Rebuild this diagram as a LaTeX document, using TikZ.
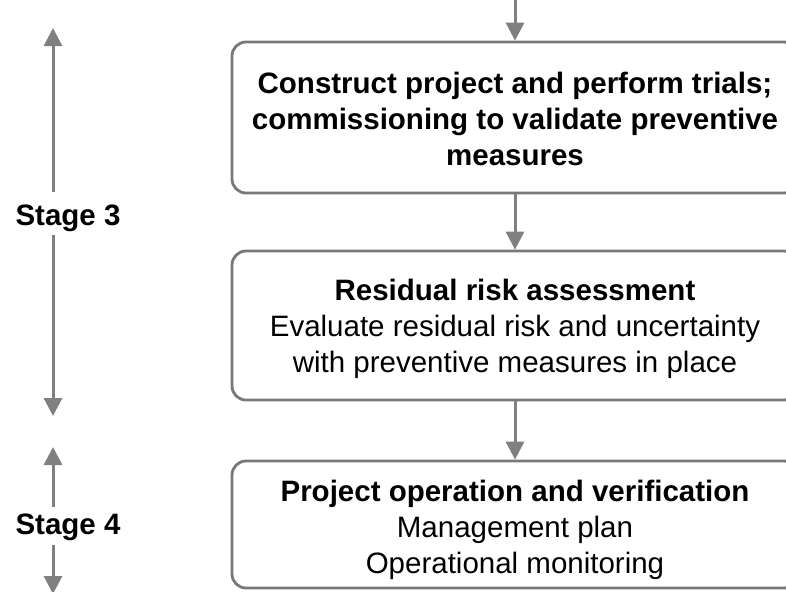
\documentclass[tikz,border=0pt]{standalone}
\usepackage{fontspec}
\setmainfont{Liberation Sans}
\usetikzlibrary{arrows.meta}
\definecolor{linegray}{HTML}{808080}
\definecolor{boxgray}{HTML}{787878}
\tikzset{
  conn/.style={draw=linegray, line width=1.5pt, -{Triangle[length=9pt,width=9pt]}},
  stagebox/.style={draw=boxgray, line width=1.4pt, rounded corners=7pt, minimum width=283pt, inner sep=0pt},
  boxtext/.style={inner sep=0pt, align=center, font=\fontsize{14.75}{18}\selectfont},
  stagelabel/.style={font=\fontsize{14.75}{18}\selectfont\bfseries, inner sep=0pt}
}
\begin{document}
\begin{tikzpicture}[x=0.5pt,y=-0.5pt]
\useasboundingbox (0,0) rectangle (786,591);
\clip (0,0) rectangle (786,591);
\fill[white] (0,0) rectangle (786,591);
\node[stagebox, minimum height=75.5pt] (b1) at (515,117.5) {};
\node[stagebox, minimum height=74.5pt] (b2) at (515,325.5) {};
\node[stagebox, minimum height=63.5pt] (b3) at (515,524.5) {};
\node[boxtext] (b1t) at (515,119) {\bfseries Construct project and perform trials;\\\bfseries commissioning to validate preventive\\\bfseries measures};
\node[boxtext] (b2t) at (515,328.5) {\bfseries Residual risk assessment\\Evaluate residual risk and uncertainty\\with preventive measures in place};
\node[boxtext] (b3t) at (515,529.5) {\bfseries Project operation and verification\\Management plan\\Operational monitoring};
\coordinate (top) at (515,0);
\draw[conn] (top) -- (b1.north);
\draw[conn] (b1.south) -- (b2.north);
\draw[conn] (b2.south) -- (b3.north);
\node[stagelabel] (s3) at (68,218) {Stage 3};
\node[stagelabel] (s4) at (68,527) {Stage 4};
\coordinate (s3a) at (53,192);
\coordinate (s3at) at (53,28);
\coordinate (s3b) at (53,235);
\coordinate (s3bt) at (53,416);
\coordinate (s4a) at (53,507);
\coordinate (s4at) at (53,447);
\coordinate (s4b) at (53,545);
\coordinate (s4bt) at (53,594);
\draw[conn] (s3a) -- (s3at);
\draw[conn] (s3b) -- (s3bt);
\draw[conn] (s4a) -- (s4at);
\draw[conn] (s4b) -- (s4bt);
\end{tikzpicture}
\end{document}
